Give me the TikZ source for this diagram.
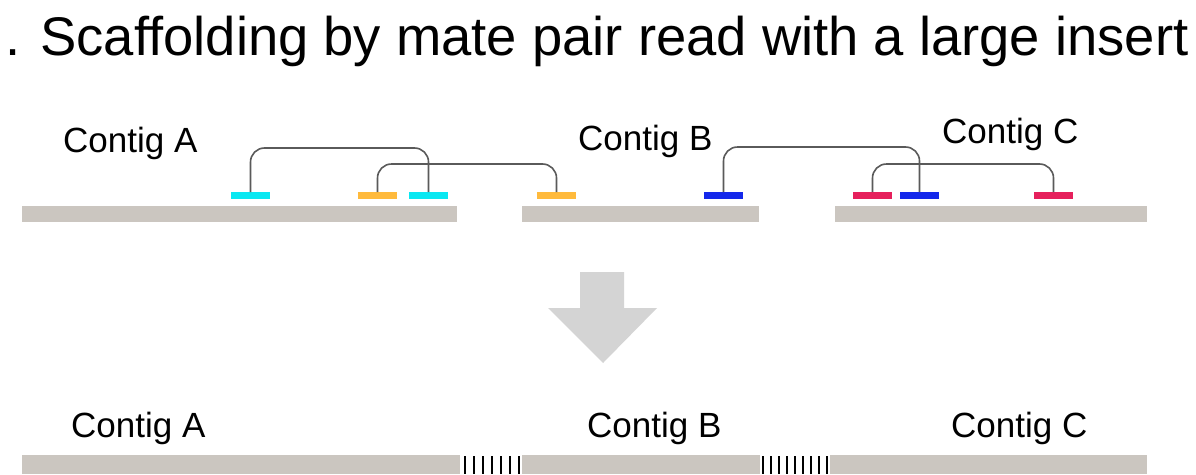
\documentclass[tikz,border=0pt]{standalone}
\usepackage{fontspec}
\setmainfont{Liberation Sans}
\definecolor{barcol}{RGB}{203,198,192}
\definecolor{readcyan}{RGB}{10,232,242}
\definecolor{readorange}{RGB}{255,186,60}
\definecolor{readblue}{RGB}{20,40,235}
\definecolor{readred}{RGB}{230,32,92}
\definecolor{linkcol}{RGB}{90,90,90}
\definecolor{arrowcol}{RGB}{212,212,212}
\begin{document}
\begin{tikzpicture}[x=1pt,y=-1pt]
\useasboundingbox[fill=white] (0,0) rectangle (1196,474);
\tikzset{
  contig/.style={fill=barcol, draw=none, inner sep=0pt, outer sep=0pt, anchor=north west},
  readbox/.style={draw=none, inner sep=0pt, outer sep=0pt, minimum width=39pt, minimum height=7pt, anchor=north west},
  lbl/.style={font=\fontsize{35}{40}\selectfont, anchor=base west, inner sep=0pt},
  pairlink/.style={draw=linkcol, line width=1.6pt, rounded corners=14pt},
  gaptick/.style={line width=2.8pt, black},
}
% title
\node[font=\fontsize{54.4}{60}\selectfont, anchor=base west, inner sep=0pt] (title) at (5,55) {. Scaffolding by mate pair read with a large insert};

% top labels
\node[lbl] (lA) at (63,152) {Contig A};
\node[lbl] (lB) at (578,150) {Contig B};
\node[lbl] (lC) at (942,143) {Contig C};

% top contigs
\node[contig, minimum width=435pt, minimum height=16pt] (cA) at (22,206) {};
\node[contig, minimum width=237pt, minimum height=16pt] (cB) at (522,206) {};
\node[contig, minimum width=312pt, minimum height=16pt] (cC) at (835,206) {};

% reads
\node[readbox, fill=readcyan] (a1) at (231,192) {};
\node[readbox, fill=readorange] (o1) at (358,192) {};
\node[readbox, fill=readcyan] (a2) at (409,192) {};
\node[readbox, fill=readorange] (o2) at (537,192) {};
\node[readbox, fill=readblue] (b1) at (704,192) {};
\node[readbox, fill=readred] (r1) at (853,192) {};
\node[readbox, fill=readblue] (b2) at (900,192) {};
\node[readbox, fill=readred] (r2) at (1034,192) {};

% link heights
\coordinate (hCyan) at (0,148);
\coordinate (hOrange) at (0,164);
\coordinate (hBlue) at (0,147);
\coordinate (hRed) at (0,164);

\draw[pairlink] (a1.north) -- (a1.north |- hCyan) -| (a2.north);
\draw[pairlink] (o1.north) -- (o1.north |- hOrange) -| (o2.north);
\draw[pairlink] (b1.north) -- (b1.north |- hBlue) -| (b2.north);
\draw[pairlink] (r1.north) -- (r1.north |- hRed) -| (r2.north);

% big arrow
\fill[arrowcol] (580,272) -- (624,272) -- (624,308) -- (657,308) -- (603,363) -- (548,308) -- (580,308) -- cycle;

% bottom labels
\node[lbl] (mA) at (71,437) {Contig A};
\node[lbl] (mB) at (587,437) {Contig B};
\node[lbl] (mC) at (951,437) {Contig C};

% bottom scaffold
\node[contig, minimum width=438pt, minimum height=19pt] (sA) at (22,455) {};
\node[contig, minimum width=238pt, minimum height=19pt] (sB) at (522,455) {};
\node[contig, minimum width=317pt, minimum height=19pt] (sC) at (830,455) {};

\foreach \i in {0,...,6} {
  \draw[gaptick] ([xshift={(5+9*\i)*1pt}, yshift=-1pt]sA.north east) -- ([xshift={(5+9*\i)*1pt}]sA.south east);
}
\foreach \i in {0,...,8} {
  \draw[gaptick] ([xshift={(3+8*\i)*1pt}, yshift=-1pt]sB.north east) -- ([xshift={(3+8*\i)*1pt}]sB.south east);
}
\end{tikzpicture}
\end{document}
